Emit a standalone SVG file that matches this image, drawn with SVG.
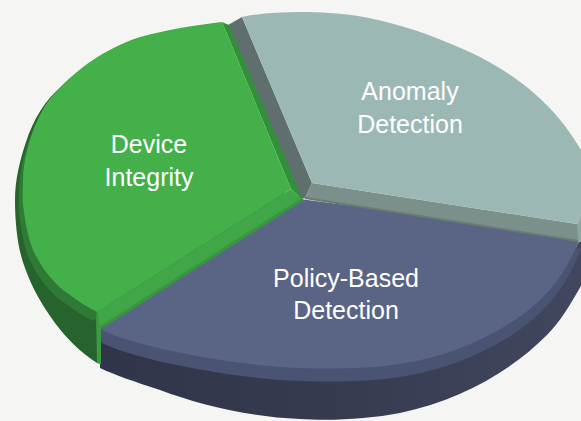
<svg xmlns="http://www.w3.org/2000/svg" xmlns:xlink="http://www.w3.org/1999/xlink" width="581" height="421" viewBox="0 0 581 421">
  <style>
    .label { font-family: "Liberation Sans", Arial, sans-serif; font-size: 25px; fill: #ffffff; text-anchor: middle; }
  </style>
  <defs>
    <linearGradient id="policySide" gradientUnits="userSpaceOnUse" x1="100" y1="0" x2="581" y2="0">
      <stop offset="0" stop-color="#30354a"/>
      <stop offset="0.5" stop-color="#363b50"/>
      <stop offset="1" stop-color="#41475e"/>
    </linearGradient>
    <path id="policyTopShape" d="M 300,199 L 582,236 L 578,243 C 565,275 545,300 515,320 C 480,343 440,358 400,364 C 365,369 330,369 300,368 C 250,366 195,357 150,346 C 130,341 115,336 102,330 L 98,318 L 290,192 Z"/>
    <path id="greenTopShape" d="M 291,189 L 222,22 C 195,25 165,30 140,37 C 118,44 99,55 83,67 C 69,78 56,90 47,103 C 39,115 34,127 30,140 C 26,153 23,167 23,180 C 23,189 22,197 23,205 C 25,222 28,237 33,250 C 38,260 43,269 50,277 C 56,284 62,290 70,295 C 78,301 87,307 97,312 Z"/>
  </defs>
  <rect x="0" y="0" width="581" height="421" fill="#f5f5f3"/>

  <g id="slice-policy-based-detection">
    <path fill="url(#policySide)" d="M 100,330 C 115,336 130,341 150,346 C 195,357 250,366 300,368 C 330,369 365,369 400,364 C 440,358 480,343 515,320 C 545,300 565,275 578,243 L 582,240 L 582,284 C 570,305 560,322 547,335 C 510,372 460,400 400,413 C 370,419 330,421 300,419 C 250,417 200,405 160,390 C 135,382 115,375 100,368 Z"/>
    <use xlink:href="#policyTopShape" href="#policyTopShape" fill="#4a5372" transform="translate(0,13)"/>
    <use xlink:href="#policyTopShape" href="#policyTopShape" fill="#5a6585"/>
    <text class="label" x="346" y="287">Policy-Based</text>
    <text class="label" x="346" y="319">Detection</text>
  </g>

  <g id="slice-anomaly-detection">
    <polygon fill="#5e6f6e" points="228,25 242,17 312,183 305,198 300,199"/>
    <polygon fill="#7b8f8b" points="312,183 577,224 582,224 582,241 578,241 305,198"/>
    <line x1="305" y1="198" x2="578" y2="241" stroke="#687a74" stroke-width="2"/>
    <polygon fill="#8ea6a2" points="577,224 582,212 582,242 578,241"/>
    <path fill="#9cb8b5" d="M 312,183 L 242,17 C 265,12 300,11 330,13 C 380,16 430,33 480,57 C 520,78 555,105 581,150 L 590,150 L 590,212 L 582,212 L 577,224 Z"/>
    <text class="label" x="410" y="100">Anomaly</text>
    <text class="label" x="410" y="133">Detection</text>
  </g>

  <g id="slice-device-integrity">
    <path fill="#27632c" d="M 62,86 C 45,100 33,120 26,142 C 20,160 15,180 15,200 C 15,225 18,250 25,268 C 32,288 42,305 55,323 C 66,338 80,352 97,363 L 101,364 L 101,329 L 200,260 L 120,140 Z"/>
    <use xlink:href="#greenTopShape" href="#greenTopShape" fill="#2f7a35" transform="translate(-4,9)"/>
    <polygon fill="#3a9c42" points="96,312 101,329 101,364 97,363"/>
    <polygon fill="#33903a" points="222,22 229,25 303,200 291,189"/>
    <polygon fill="#41a648" points="97,312 291,189 303,200 100,329"/>
    <line x1="100" y1="328" x2="303" y2="199" stroke="#37973f" stroke-width="3"/>
    <use xlink:href="#greenTopShape" href="#greenTopShape" fill="#43b04a"/>
    <text class="label" x="149" y="153">Device</text>
    <text class="label" x="149" y="186">Integrity</text>
  </g>

  <g id="connectors"/>
</svg>
